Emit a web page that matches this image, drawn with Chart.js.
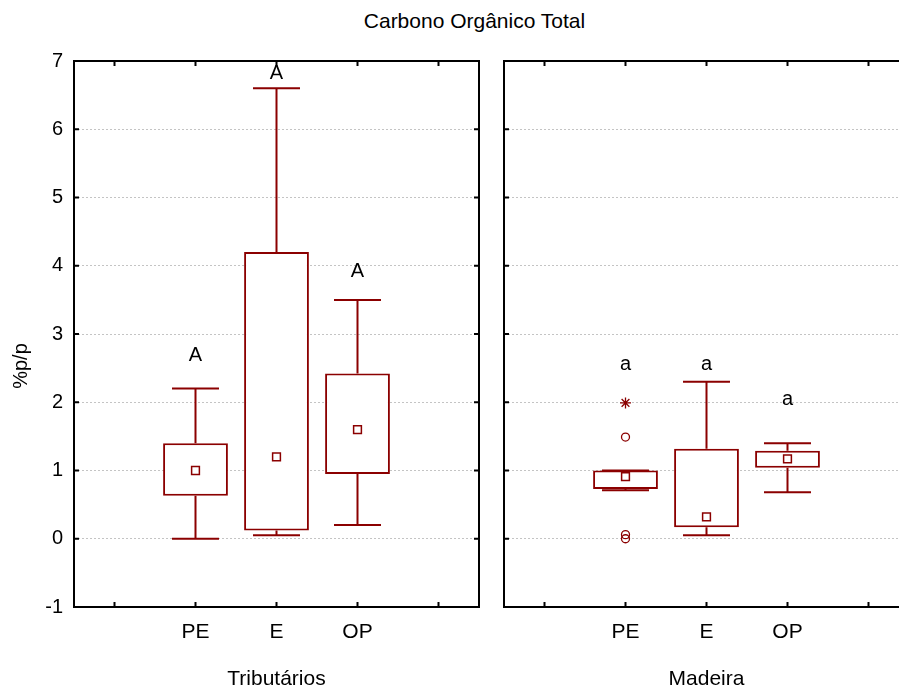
<!DOCTYPE html>
<html lang="pt">
<head>
<meta charset="utf-8">
<title>Carbono Orgânico Total</title>
<script src="https://cdn.jsdelivr.net/npm/chart.js@4.4.1/dist/chart.umd.min.js"></script>
<style>
  html, body { margin: 0; padding: 0; background: #fff; overflow: hidden; }
  #wrap { position: relative; width: 899px; height: 685px; overflow: hidden; }
  #titulo {
    position: absolute; left: 0; top: 9px; width: 949px;
    text-align: center; font: 21px/24px 'Liberation Sans', Arial, sans-serif; color: #000;
  }
  canvas { position: absolute; top: 0; }
  #trib { left: 0; }
  #mad { left: 490px; }
</style>
</head>
<body>
<div id="wrap">
  <div id="titulo">Carbono Orgânico Total</div>
  <canvas id="trib" width="490" height="685"></canvas>
  <canvas id="mad" width="430" height="685"></canvas>
</div>
<script>
// Categorias (mesmas nos dois painéis)
const categories = ['PE', 'E', 'OP'];
const yMin = -1, yMax = 7;

// Tributários: mínimo, quartis, máximo e média
const tribMin  = [0.00, 0.05, 0.20];
const tribQ1   = [0.63, 0.12, 0.95];
const tribQ3   = [1.40, 4.20, 2.42];
const tribMax  = [2.20, 6.60, 3.50];
const tribMean = [1.00, 1.20, 1.60];
const tribLetters = ['A', 'A', 'A'];
const tribLetterY = [2.72, 6.84, 3.95];

// Madeira
const madMin  = [0.71, 0.05, 0.68];
const madQ1   = [0.73, 0.17, 1.04];
const madQ3   = [1.00, 1.32, 1.29];
const madMax  = [1.00, 2.30, 1.40];
const madMean = [0.91, 0.32, 1.17];
const madOutlierCat = ['PE', 'PE', 'PE'];
const madOutlierVal = [1.49, 0.06, 0.00];
const madExtremeCat = ['PE'];
const madExtremeVal = [1.99];
const madLetters = ['a', 'a', 'a'];
const madLetterY = [2.58, 2.58, 2.07];

const boxColor = '#8b0000';
const fontFamily = "'Liberation Sans', Arial, sans-serif";
Chart.defaults.font.family = fontFamily;
Chart.defaults.color = '#000';

// uma posição vazia de cada lado, como no original
const slots = ['', ...categories, ''];
const padSlots = values => [null, ...values, null];

// bigodes (linhas verticais + traços horizontais)
function whiskerPlugin(st) {
  return {
    id: 'whiskers',
    beforeDatasetsDraw(chart) {
      const { ctx, scales: { x, y } } = chart;
      const half = (x.getPixelForValue(1) - x.getPixelForValue(0)) * 0.29;
      ctx.save();
      ctx.strokeStyle = boxColor;
      ctx.lineWidth = 2;
      st.min.forEach((lo, i) => {
        const cx = x.getPixelForValue(i + 1);
        [[st.q3[i], st.max[i]], [st.q1[i], lo]].forEach(([from, to]) => {
          ctx.beginPath();
          ctx.moveTo(cx, y.getPixelForValue(from));
          ctx.lineTo(cx, y.getPixelForValue(to));
          ctx.moveTo(cx - half, y.getPixelForValue(to));
          ctx.lineTo(cx + half, y.getPixelForValue(to));
          ctx.stroke();
        });
      });
      ctx.restore();
    }
  };
}

// letras de significância acima das caixas
function letterPlugin(st) {
  return {
    id: 'letters',
    afterDraw(chart) {
      const { ctx, scales: { x, y } } = chart;
      ctx.save();
      ctx.font = '20px ' + fontFamily;
      ctx.fillStyle = '#000';
      ctx.textAlign = 'center';
      ctx.textBaseline = 'middle';
      st.letters.forEach((txt, i) => {
        ctx.fillText(txt, x.getPixelForValue(i + 1), y.getPixelForValue(st.letterY[i]) + 2);
      });
      ctx.restore();
    }
  };
}

// moldura preta e marcas de escala para dentro
const framePlugin = {
  id: 'frame',
  afterDraw(chart) {
    const { ctx, chartArea: a, scales: { x, y } } = chart;
    ctx.save();
    ctx.strokeStyle = '#000';
    ctx.lineWidth = 2;
    ctx.strokeRect(a.left, a.top, a.right - a.left, a.bottom - a.top);
    ctx.beginPath();
    y.ticks.forEach(t => {
      const py = y.getPixelForValue(t.value);
      ctx.moveTo(a.left, py); ctx.lineTo(a.left + 5, py);
      ctx.moveTo(a.right, py); ctx.lineTo(a.right - 5, py);
    });
    x.ticks.forEach((t, i) => {
      const px = x.getPixelForTick(i);
      ctx.moveTo(px, a.top); ctx.lineTo(px, a.top + 5);
      ctx.moveTo(px, a.bottom); ctx.lineTo(px, a.bottom - 5);
    });
    ctx.stroke();
    ctx.restore();
  }
};

const yTitlePlugin = {
  id: 'yTitle',
  afterDraw(chart) {
    const { ctx, chartArea: a } = chart;
    ctx.save();
    ctx.translate(21, (a.top + a.bottom) / 2 + 32);
    ctx.rotate(-Math.PI / 2);
    ctx.font = '20px ' + fontFamily;
    ctx.fillStyle = '#000';
    ctx.textAlign = 'center';
    ctx.textBaseline = 'middle';
    ctx.fillText('%p/p', 0, 0);
    ctx.restore();
  }
};

function buildPanel(canvasId, st, panelTitle, showYLabels, extraDatasets, extraPlugins) {
  const datasets = [
    {
      type: 'bar',
      data: padSlots(st.q1.map((q, i) => [q, st.q3[i]])),
      backgroundColor: '#fff',
      borderColor: boxColor,
      borderWidth: 2,
      borderSkipped: false,
      barPercentage: 0.8,
      categoryPercentage: 1,
      order: 3
    },
    {
      type: 'line',
      data: padSlots(st.mean),
      showLine: false,
      pointStyle: 'rect',
      pointRadius: 5.5,
      pointBorderWidth: 1.5,
      pointBackgroundColor: '#fff',
      pointBorderColor: boxColor,
      order: 1
    },
    ...extraDatasets
  ];

  return new Chart(document.getElementById(canvasId), {
    type: 'bar',
    data: { labels: slots, datasets },
    options: {
      responsive: false,
      animation: false,
      events: [],
      layout: { padding: { top: 61, right: 11, left: 0, bottom: 0 } },
      plugins: { legend: { display: false }, tooltip: { enabled: false } },
      scales: {
        x: {
          type: 'category',
          offset: true,
          grid: { display: false },
          border: { display: false },
          ticks: { autoSkip: false, maxRotation: 0, padding: 5, font: { size: 21 } },
          title: { display: true, text: panelTitle, font: { size: 21, lineHeight: 0.55 }, padding: 0 },
          afterFit: s => { s.height = 78; }
        },
        y: {
          min: yMin,
          max: yMax,
          grid: { color: '#c4c4c4', lineWidth: 1, drawTicks: false },
          border: { display: false, dash: [2, 2] },
          ticks: { stepSize: 1, display: showYLabels, padding: 11, font: { size: 20 } },
          afterFit: s => { s.width = showYLabels ? 74 : 14; }
        }
      }
    },
    plugins: [whiskerPlugin(st), framePlugin, letterPlugin(st), ...extraPlugins]
  });
}

const tribStats = { min: tribMin, q1: tribQ1, q3: tribQ3, max: tribMax, mean: tribMean,
                    letters: tribLetters, letterY: tribLetterY };
const madStats = { min: madMin, q1: madQ1, q3: madQ3, max: madMax, mean: madMean,
                   letters: madLetters, letterY: madLetterY };

buildPanel('trib', tribStats, 'Tributários', true, [], [yTitlePlugin]);

buildPanel('mad', madStats, 'Madeira', false, [
  {
    type: 'line',
    data: madOutlierCat.map((c, i) => ({ x: c, y: madOutlierVal[i] })),
    showLine: false,
    pointStyle: 'circle',
    pointRadius: 4,
    pointBorderWidth: 1.3,
    pointBackgroundColor: 'rgba(0,0,0,0)',
    pointBorderColor: boxColor,
    order: 0
  },
  {
    type: 'line',
    data: madExtremeCat.map((c, i) => ({ x: c, y: madExtremeVal[i] })),
    showLine: false,
    pointStyle: 'star',
    pointRadius: 5.5,
    pointBorderWidth: 1.3,
    pointBorderColor: boxColor,
    order: 0
  }
], []);
</script>
</body>
</html>
